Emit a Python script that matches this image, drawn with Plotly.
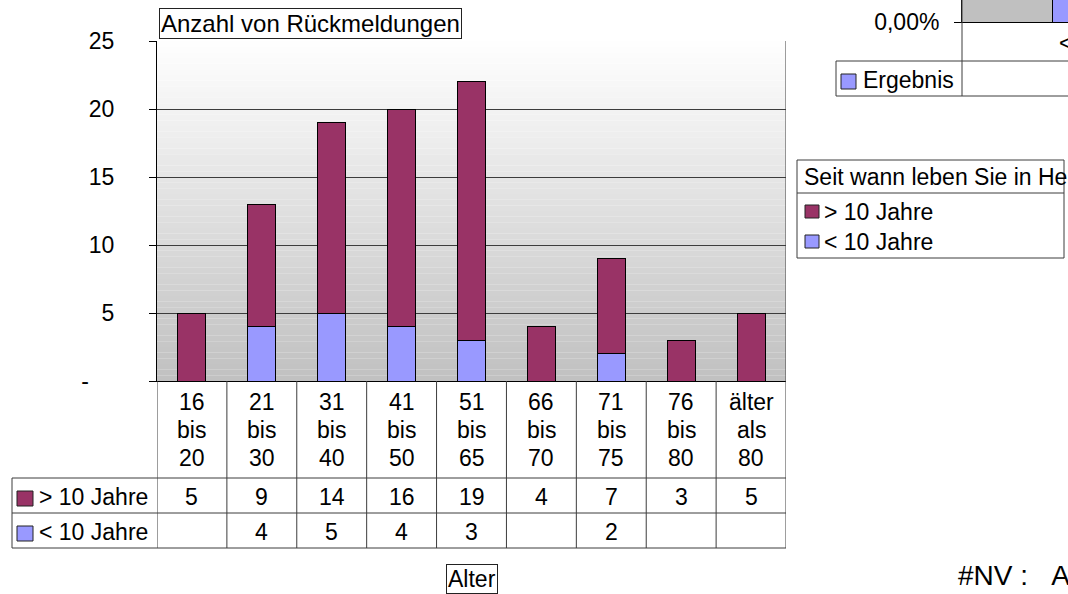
import plotly.graph_objects as go

# ---------------- data ----------------
categories = ["16 bis 20", "21 bis 30", "31 bis 40", "41 bis 50", "51 bis 65",
              "66 bis 70", "71 bis 75", "76 bis 80", "älter als 80"]
over_10 = [5, 9, 14, 16, 19, 4, 7, 3, 5]
under_10 = [None, 4, 5, 4, 3, None, 2, None, None]
series_names = ["> 10 Jahre", "< 10 Jahre"]
y_tickvals = [0, 5, 10, 15, 20, 25]
y_ticktext = ["-\u00a0\u00a0\u00a0\u00a0", "5", "10", "15", "20", "25"]
title_text = "Anzahl von Rückmeldungen"
axis_title = "Alter"
legend_title = "Seit wann leben Sie in He"

# clipped neighbouring chart (top right)
ergebnis_label = "Ergebnis"
ergebnis_categories = ["< 10 Jahre"]
ergebnis_values = [0.25]          # bar top lies outside the visible area
ergebnis_tickvals = [0]
ergebnis_ticktext = ["0,00%"]
nv_text = "#NV :\u00a0\u00a0\u00a0A"

# ---------------- style ----------------
W, H = 1068, 594
MAROON = "#993366"
LAV = "#9999FF"
LINE = "#3c3c3c"
FONT = "Liberation Sans, Arial, sans-serif"
FS = 23


def X(px):
    return px / W


def Y(py):
    return 1 - py / H


fig = go.Figure()
fig.add_trace(go.Bar(x=categories, y=under_10, name=series_names[1],
                     marker=dict(color=LAV, line=dict(color="black", width=1)),
                     hoverinfo="skip", xaxis="x", yaxis="y"))
fig.add_trace(go.Bar(x=categories, y=over_10, name=series_names[0],
                     marker=dict(color=MAROON, line=dict(color="black", width=1)),
                     hoverinfo="skip", xaxis="x", yaxis="y"))
fig.add_trace(go.Bar(x=ergebnis_categories, y=ergebnis_values, width=0.6,
                     marker=dict(color=LAV, line=dict(color="black", width=1)),
                     hoverinfo="skip", xaxis="x2", yaxis="y2"))

shapes = []
# gradient background of the plot area
N = 60
for k in range(N):
    t = (k + 0.5) / N
    v = int(round(192 + (255 - 192) * t))
    shapes.append(dict(type="rect", xref="x domain", yref="y domain",
                       x0=0, x1=1, y0=k / N, y1=(k + 1) / N,
                       fillcolor=f"rgb({v},{v},{v})", line=dict(width=0),
                       layer="below"))


def pline(x0, y0, x1, y1, color=LINE):
    shapes.append(dict(type="line", xref="paper", yref="paper",
                       x0=X(x0), y0=Y(y0), x1=X(x1), y1=Y(y1),
                       line=dict(color=color, width=1)))


def key(x0, y0, x1, y1, color):
    shapes.append(dict(type="rect", xref="paper", yref="paper",
                       x0=X(x0), y0=Y(y0), x1=X(x1), y1=Y(y1),
                       fillcolor=color, line=dict(color="#222", width=1)))


# data table grid
n = len(categories)
for i in range(n + 1):
    top = Y(41) if i == n else Y(381)
    shapes.append(dict(type="line", xref="x", yref="paper",
                       x0=i - 0.5, x1=i - 0.5, y0=top, y1=Y(548),
                       line=dict(color=LINE, width=1)))
for yy in (478, 513, 548):
    pline(12, yy, 786, yy)
pline(12, 478, 12, 548)
key(17, 491, 33, 506, MAROON)
key(17, 526, 33, 541, LAV)

# neighbouring chart fragment
shapes.append(dict(type="rect", xref="x2 domain", yref="y2 domain",
                   x0=0, x1=1, y0=0, y1=1, fillcolor="#C0C0C0",
                   line=dict(width=0), layer="below"))
pline(962, 0, 962, 96)
pline(836, 61, 1068, 61)
pline(836, 96, 1068, 96)
pline(836, 61, 836, 96)
key(841, 74, 856, 89, LAV)

# legend box
shapes.append(dict(type="rect", xref="paper", yref="paper",
                   x0=X(797), x1=X(1064), y0=Y(160), y1=Y(258),
                   fillcolor="white", line=dict(color=LINE, width=1)))
pline(797, 193, 1064, 193)
key(805, 205, 819, 218, MAROON)
key(805, 235, 819, 248, LAV)

annotations = []


def ptext(x, y, text, xanchor="left", size=FS, **kw):
    d = dict(x=X(x), y=Y(y), xref="paper", yref="paper", text=text,
             showarrow=False, xanchor=xanchor, yanchor="middle",
             font=dict(family=FONT, size=size, color="black"))
    d.update(kw)
    annotations.append(d)


# category labels (three lines each)
for cat in categories:
    for j, part in enumerate(cat.split(" ")):
        annotations.append(dict(x=cat, y=Y(402 + 28 * j), xref="x", yref="paper",
                                text=part, showarrow=False, xanchor="center",
                                yanchor="middle",
                                font=dict(family=FONT, size=FS, color="black")))
# table values
for row_y, vals in ((497, over_10), (532, under_10)):
    for cat, v in zip(categories, vals):
        if v is None:
            continue
        annotations.append(dict(x=cat, y=Y(row_y), xref="x", yref="paper",
                                text=str(v), showarrow=False, xanchor="center",
                                yanchor="middle",
                                font=dict(family=FONT, size=FS, color="black")))
ptext(37, 497, series_names[0])
ptext(37, 532, series_names[1])

# title & axis title boxes
annotations.append(dict(x=X(159), y=Y(8), xref="paper", yref="paper",
                        text=title_text, showarrow=False, xanchor="left",
                        yanchor="top", bordercolor="#222", borderwidth=1,
                        borderpad=1, bgcolor="white",
                        font=dict(family=FONT, size=24, color="black")))
annotations.append(dict(x=X(472), y=Y(578.5), xref="paper", yref="paper",
                        text=axis_title, showarrow=False, xanchor="center",
                        yanchor="middle", bordercolor="#222", borderwidth=1,
                        borderpad=1, bgcolor="white",
                        font=dict(family=FONT, size=FS, color="black")))

# fragment texts
ptext(1057, 43, ergebnis_categories[0])
ptext(861, 80, ergebnis_label)
ptext(802, 177, legend_title)
ptext(822, 212, series_names[0])
ptext(822, 242, series_names[1])
ptext(956, 575, nv_text, size=28)

fig.update_layout(
    width=W, height=H,
    margin=dict(l=0, r=0, t=0, b=0, autoexpand=False),
    paper_bgcolor="white", plot_bgcolor="white",
    barmode="stack", bargap=0.6,
    showlegend=False,
    font=dict(family=FONT, size=FS, color="black"),
    shapes=shapes, annotations=annotations,
    xaxis=dict(domain=[X(157), X(786)], range=[-0.5, n - 0.5], type="category",
               categoryorder="array", categoryarray=categories,
               showline=True, linecolor="black", linewidth=1, showgrid=False,
               ticks="", showticklabels=False, zeroline=False, fixedrange=True,
               automargin=False, anchor="y"),
    yaxis=dict(domain=[Y(381), Y(41)], range=[0, 25], tickvals=y_tickvals,
               ticktext=y_ticktext, ticks="outside", ticklen=7,
               tickcolor="black", showline=True, linecolor="black",
               showgrid=True, gridcolor=LINE, gridwidth=1, zeroline=False,
               tickfont=dict(family=FONT, size=FS, color="black"),
               ticklabelstandoff=30, fixedrange=True, automargin=False,
               anchor="x"),
    xaxis2=dict(domain=[X(962), 1], range=[-0.767, -0.218], type="category",
                showline=True, linecolor="black", showgrid=False, ticks="",
                showticklabels=False, zeroline=False, fixedrange=True,
                automargin=False, anchor="y2"),
    yaxis2=dict(domain=[Y(22), 1], range=[0, 0.02], tickvals=ergebnis_tickvals,
                ticktext=ergebnis_ticktext, ticks="outside", ticklen=7,
                tickcolor="black", showline=True, linecolor="black",
                showgrid=False, zeroline=False,
                tickfont=dict(family=FONT, size=FS, color="black"),
                ticklabelstandoff=10, fixedrange=True, automargin=False,
                anchor="x2"),
)

post = ("document.body.style.margin='0';document.body.style.overflow='hidden';"
        "document.documentElement.style.overflow='hidden';")
fig.write_html("out.html", config={"displayModeBar": False}, post_script=post)
